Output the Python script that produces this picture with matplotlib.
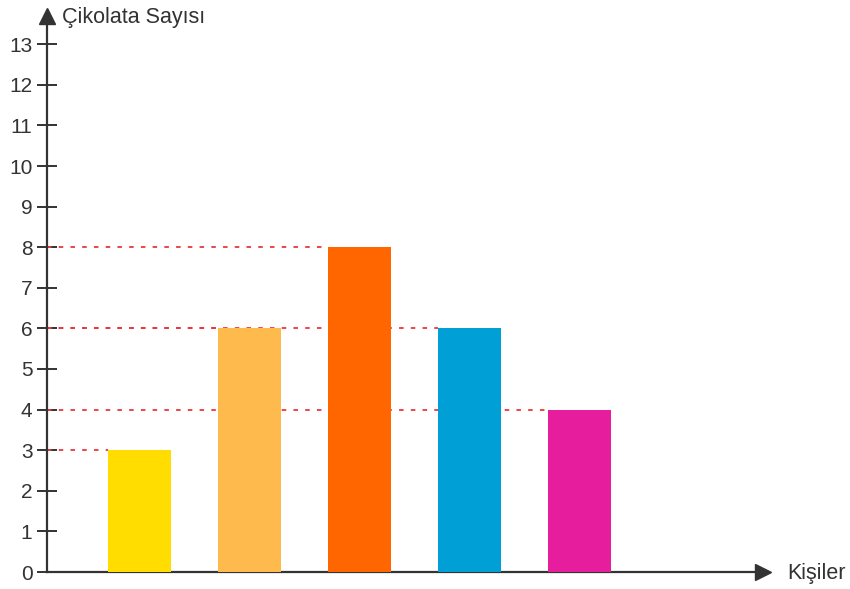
import matplotlib.pyplot as plt
import numpy as np

plt.rcParams['font.family'] = ['Liberation Sans', 'DejaVu Sans']

people = ['A', 'B', 'C', 'D', 'E']
chocolates = [3, 6, 8, 6, 4]
colors = ['#FFDD00', '#FFBA4D', '#FF6600', '#00A0D6', '#E61E9E']
yticks = list(range(0, 14))

axis_col = '#333333'
fig = plt.figure(figsize=(8.5, 5.89), dpi=100)
ax = fig.add_axes([47/850, 17/589, 716/850, 556/589])

x = np.arange(len(people))
w = 0.57
xmin = -0.841
ax.set_xlim(xmin, xmin + 716/110)
ax.set_ylim(0, 556/40.6)

ax.bar(x, chocolates, width=w, color=colors, zorder=3)
for xi, v in zip(x, chocolates):
    ax.plot([xmin, xi - w/2], [v, v], color='#E8383D', lw=1.3,
            dashes=(2.5, 4), zorder=2)

for s in ['top', 'right']:
    ax.spines[s].set_visible(False)
for s in ['left', 'bottom']:
    ax.spines[s].set_color(axis_col)
    ax.spines[s].set_linewidth(1.6)

ax.plot(1, 0, '>', color=axis_col, ms=12, transform=ax.transAxes, clip_on=False)
ax.plot(0, 1, '^', color=axis_col, ms=12, transform=ax.transAxes, clip_on=False)

ax.set_xticks([])
ax.set_yticks(yticks)
ax.tick_params(axis='y', direction='inout', length=15, width=1.4, color=axis_col,
               labelsize=15, labelcolor='#333333', pad=3)

fig.text(62/850, 1 - 18/589, 'Çikolata Sayısı', fontsize=15.5, color='#333333', va='center', ha='left')
fig.text(787/850, 1 - 574/589, 'Kişiler', fontsize=15.5, color='#333333', va='center', ha='left')

fig.savefig('out.png', dpi=100)
